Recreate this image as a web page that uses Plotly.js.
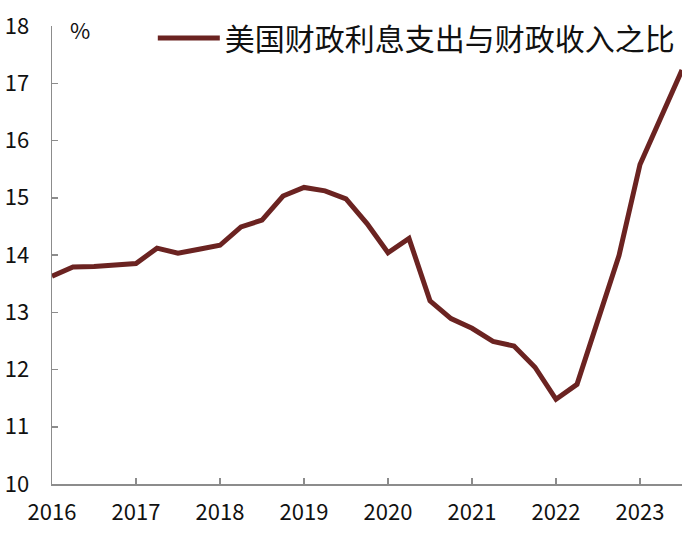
<!DOCTYPE html>
<html>
<head>
<meta charset="utf-8">
<script src="https://cdn.plot.ly/plotly-3.0.1.min.js"></script>
<style>html,body{margin:0;padding:0;background:#fff;}#chart{width:700px;height:538px;}</style>
</head>
<body>
<div id="chart"></div>
<script>
const quarters = [2016.00,2016.25,2016.50,2016.75,2017.00,2017.25,2017.50,2017.75,
  2018.00,2018.25,2018.50,2018.75,2019.00,2019.25,2019.50,2019.75,
  2020.00,2020.25,2020.50,2020.75,2021.00,2021.25,2021.50,2021.75,
  2022.00,2022.25,2022.50,2022.75,2023.00,2023.25,2023.50];
const ratio = [13.63,13.79,13.80,13.83,13.85,14.12,14.03,14.10,
  14.17,14.49,14.61,15.03,15.18,15.12,14.98,14.55,
  14.04,14.29,13.20,12.89,12.72,12.49,12.41,12.04,
  11.48,11.74,12.90,13.99,15.58,16.42,17.23];
const seriesName = "美国财政利息支出与财政收入之比";
const xTicks = [2016,2017,2018,2019,2020,2021,2022,2023];
const xTickLabels = ["2016","2017","2018","2019","2020","2021","2022","2023"];
const yTicks = [10,11,12,13,14,15,16,17,18];
const unitLabel = "%";

const FONT = '"Noto Sans CJK SC", "Noto Sans", sans-serif';
const trace = {
  x: quarters, y: ratio, type: 'scatter', mode: 'lines', name: seriesName,
  line: {color: '#6b2321', width: 5}
};
const layout = {
  width: 700, height: 538,
  margin: {l: 52, r: 17.5, t: 22, b: 54},
  paper_bgcolor: '#fff', plot_bgcolor: '#fff',
  font: {family: FONT, color: '#111'},
  showlegend: true,
  legend: {
    x: 0.16, xanchor: 'left', y: 0.974, yanchor: 'middle',
    bgcolor: 'rgba(0,0,0,0)', font: {size: 30, family: FONT, color: '#111'},
    itemwidth: 62
  },
  xaxis: {
    range: [2016, 2023.5], tickvals: xTicks, ticktext: xTickLabels,
    showgrid: false, zeroline: false, showline: true, linecolor: '#8c8c8c', linewidth: 1.5,
    ticks: 'inside', ticklen: 6, tickcolor: '#8c8c8c', tickwidth: 1.5,
    ticklabelstandoff: 8,
    tickfont: {size: 22, family: FONT, color: '#111'}, fixedrange: true
  },
  yaxis: {
    range: [10, 18], tickvals: yTicks,
    showgrid: false, zeroline: false, showline: true, linecolor: '#8c8c8c', linewidth: 1.5,
    ticks: 'inside', ticklen: 6, tickcolor: '#8c8c8c', tickwidth: 1.5,
    ticklabelstandoff: 17,
    tickfont: {size: 22, family: FONT, color: '#111'}, fixedrange: true
  },
  annotations: [{
    text: unitLabel, xref: 'paper', yref: 'paper', x: 0.045, y: 0.993,
    xanchor: 'center', yanchor: 'middle', showarrow: false,
    font: {size: 22, family: FONT, color: '#111'}
  }]
};
Plotly.newPlot('chart', [trace], layout, {displayModeBar: false, staticPlot: true});
</script>
</body>
</html>
